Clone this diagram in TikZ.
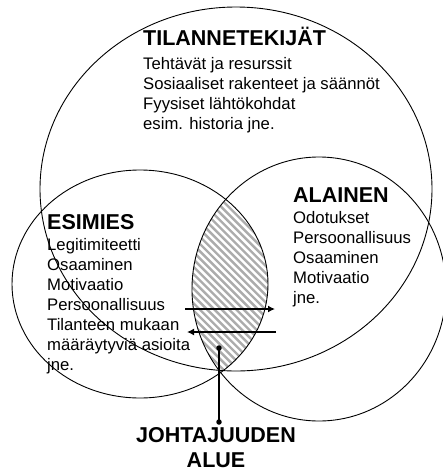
\documentclass[tikz,border=0pt]{standalone}
\usepackage{fontspec}
\setmainfont{Liberation Sans}
\usetikzlibrary{arrows.meta}

\tikzstyle{head} = [font=\fontsize{21.5}{25}\selectfont\bfseries, inner sep=0pt]
\tikzstyle{lines} = [font=\fontsize{16.7}{20}\selectfont, align=left, inner sep=0pt, anchor=north west]
\tikzstyle{ring} = [draw, line width=0.9pt]
\tikzstyle{dot} = [circle, fill, inner sep=0pt, minimum size=5.5pt]
\tikzstyle{flow} = [line width=2.2pt, -{Latex[length=7pt,width=7pt]}]
\tikzstyle{hatch} = [gray!65, line width=2.4pt]

\begin{document}
\begin{tikzpicture}[x=1pt, y=-1pt]
\useasboundingbox (0,0) rectangle (443,472);
\coordinate (tila) at (236,189);
\coordinate (esim) at (140,284);
\coordinate (alai) at (319,289);

\begin{scope}
\clip (esim) ellipse [x radius=128, y radius=114];
\clip (alai) ellipse [x radius=127, y radius=132];
\clip (tila) ellipse [x radius=196, y radius=182];
\foreach \c in {-40,-32.7,...,240}
  \draw[hatch] (\c,150) -- ++(260,260);
\end{scope}

\draw[ring] (tila) ellipse [x radius=196, y radius=182];
\draw[ring] (esim) ellipse [x radius=128, y radius=114];
\draw[ring] (alai) ellipse [x radius=127, y radius=132];

\node[head, anchor=base west] (tilah) at (143,45) {TILANNETEKIJÄT};
\node[lines] (tilat) at (143,55) {\strut Tehtävät ja resurssit\\Sosiaaliset rakenteet ja säännöt\\Fyysiset lähtökohdat\\esim. historia jne.};

\node[head, anchor=base west] (alaih) at (293,202) {ALAINEN};
\node[lines] (alait) at (293,209) {\strut Odotukset\\Persoonallisuus\\Osaaminen\\Motivaatio\\jne.};

\node[head, anchor=base west] (esimh) at (47,229) {ESIMIES};
\node[lines] (esimt) at (47,236) {\strut Legitimiteetti\\Osaaminen\\Motivaatio\\Persoonallisuus\\Tilanteen mukaan\\määräytyviä asioita\\jne.};

\coordinate (r1) at (185,309);
\coordinate (r2) at (275,309);
\draw[flow] (r1) -- (r2);
\coordinate (l1) at (276,332);
\coordinate (l2) at (187,332);
\draw[flow] (l1) -- (l2);

\node[dot] (top) at (219,348) {};
\node[dot] (bot) at (219,422) {};
\draw[line width=1.5pt] (top.center) -- (bot.center);

\node[head, align=center, anchor=north] (area) at (216,424.5) {\strut JOHTAJUUDEN\\ALUE};
\end{tikzpicture}
\end{document}
